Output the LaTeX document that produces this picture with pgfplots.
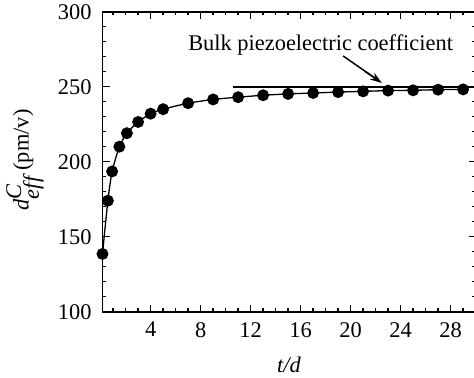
\documentclass[border=0pt]{standalone}
\usepackage{fontspec}
\setmainfont{Liberation Serif}
\usepackage{pgfplots}
\pgfplotsset{compat=1.18}
\usetikzlibrary{arrows.meta}
\begin{document}
\begin{tikzpicture}
\begin{axis}[
  scale only axis,
  width=373.1bp, height=300bp,
  xmin=0.15, xmax=30, ymin=100, ymax=300,
  xtick={4,8,...,28}, minor xtick={1,2,...,29},
  ytick={100,150,...,300}, minor ytick={110,120,...,290},
  tick align=inside,
  major tick length=7bp, minor tick length=3.8bp,
  axis line style={line width=1.8bp},
  every tick/.style={black, line width=1.3bp},
  font=\fontsize{22.5}{27}\selectfont,
  /pgf/number format/assume math mode=true,
  xticklabel style={yshift=-7bp},
  yticklabel style={xshift=-7.5bp},
  xlabel={\textit{t/d}},
  ylabel={\textit{d}$^{\textit{C}}_{\textit{eff}}$ (pm/v)},
  xlabel style={at={(axis description cs:0.5,0)}, anchor=base, yshift=-61bp},
  ylabel style={at={(axis description cs:-0.2077,0.506)}, anchor=center},
  clip=false,
]
\coordinate (SW) at (rel axis cs:0,0);
\addplot[black, line width=1.3bp, smooth, tension=0.4, mark=*, mark size=5.3bp, mark options={fill=black}] coordinates {
(0.15,138.5) (0.58,174) (0.92,193.5) (1.5,210) (2.1,219) (3,226.5) (4,232) (5,235) (7,239) (9,241.5) (11,243) (13,244.3) (15,245.2) (17,245.8) (19,246.4) (21,246.9) (23,247.4) (25,247.6) (27,248) (29,248.2)
};
\addplot[black, line width=2bp] coordinates {(10.6,250) (30,250)};
\addplot[black, line width=1.5bp] coordinates {(19.4,270.5) (21.9,256)};
\draw[black, line width=1.5bp, -{Stealth[length=12bp, width=8bp]}] (axis cs:21.2,260) -- (axis cs:22.5,252.5);
\node[anchor=base] at (axis cs:17.6,273.8) {Bulk piezoelectric coefficient};
\end{axis}
\pgfresetboundingbox
\path (SW) ++(-102.5bp,-66.3bp) rectangle ++(474bp,378bp);
\end{tikzpicture}
\end{document}
